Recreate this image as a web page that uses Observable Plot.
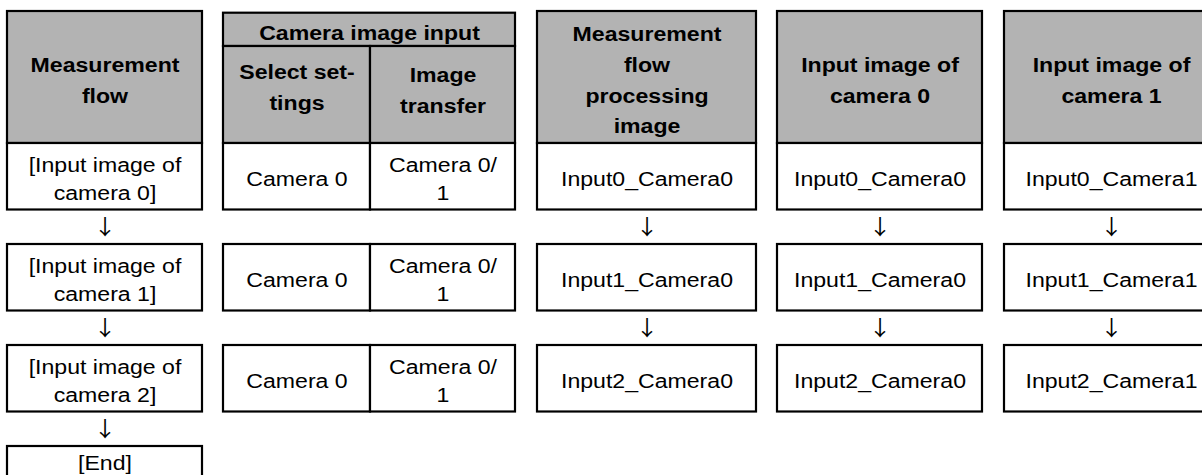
<!DOCTYPE html>
<html>
<head>
<meta charset="utf-8">
<script src="https://cdn.jsdelivr.net/npm/d3@7"></script>
<script src="https://cdn.jsdelivr.net/npm/@observablehq/plot@0.6"></script>
<style>
  html, body { margin: 0; padding: 0; background: #ffffff; overflow: hidden; }
</style>
</head>
<body>
<div id="chart"></div>
<script>
// ---------- data ----------
const columnTitles = [
  "Measurement\nflow",
  "Camera image input",
  "Measurement\nflow\nprocessing\nimage",
  "Input image of\ncamera 0",
  "Input image of\ncamera 1"
];
const cameraInputSubTitles = ["Select set-\ntings", "Image\ntransfer"];
const measurementFlow = ["[Input image of\ncamera 0]", "[Input image of\ncamera 1]", "[Input image of\ncamera 2]", "[End]"];
const selectSettings = ["Camera 0", "Camera 0", "Camera 0"];
const imageTransfer = ["Camera 0/\n1", "Camera 0/\n1", "Camera 0/\n1"];
const processingImage = ["Input0_Camera0", "Input1_Camera0", "Input2_Camera0"];
const camera0Image = ["Input0_Camera0", "Input1_Camera0", "Input2_Camera0"];
const camera1Image = ["Input0_Camera1", "Input1_Camera1", "Input2_Camera1"];
const arrowGlyph = "\u2193";

// ---------- layout ----------
const W = 1202, H = 475;
const colX = [[7, 202], [223, 515], [537, 756], [777, 982], [1004, 1218]];
const splitX = 370;
const headTop = 11, camTop = 12.7, groupBottom = 46, headBottom = 143;
const rowStep = 101, rowH = 66.5;
const rowTop = i => headBottom + i * rowStep;
const GRAY = "#b3b3b3";
const FONT = "'Liberation Sans', Arial, Helvetica, sans-serif";
const ARROW_FONT = "'Noto Sans CJK JP', 'Noto Sans CJK SC', 'DejaVu Sans', sans-serif";

// ---------- build cells ----------
const headerCells = [];
const dataCells = [];
const arrows = [];

columnTitles.forEach((t, c) => {
  if (c === 1) {
    headerCells.push({x1: colX[1][0], x2: colX[1][1], y1: camTop, y2: groupBottom, text: t, dy: 0});
    headerCells.push({x1: colX[1][0], x2: splitX, y1: groupBottom, y2: headBottom, text: cameraInputSubTitles[0], dy: -10});
    headerCells.push({x1: splitX, x2: colX[1][1], y1: groupBottom, y2: headBottom, text: cameraInputSubTitles[1], dy: -7});
  } else {
    headerCells.push({x1: colX[c][0], x2: colX[c][1], y1: headTop, y2: headBottom, text: t, dy: 0});
  }
});

function addColumn(values, x1, x2, withArrows) {
  values.forEach((v, i) => {
    dataCells.push({x1, x2, y1: rowTop(i), y2: rowTop(i) + rowH, text: v});
    if (withArrows && i < values.length - 1) {
      arrows.push({x: (x1 + x2) / 2, y: rowTop(i) + rowH + (rowStep - rowH) / 2, text: arrowGlyph});
    }
  });
}
addColumn(measurementFlow, colX[0][0], colX[0][1], true);
addColumn(selectSettings, colX[1][0], splitX, false);
addColumn(imageTransfer, splitX, colX[1][1], false);
addColumn(processingImage, colX[2][0], colX[2][1], true);
addColumn(camera0Image, colX[3][0], colX[3][1], true);
addColumn(camera1Image, colX[4][0], colX[4][1], true);

// text is centred in the visible part of each cell
const cx = d => (d.x1 + d.x2) / 2;
const cy = d => (d.y1 + Math.min(d.y2, H)) / 2 + (d.dy || 0);

const chart = Plot.plot({
  width: W,
  height: H,
  margin: 0,
  x: {type: "identity", axis: null},
  y: {type: "identity", axis: null},
  style: {fontFamily: FONT, background: "#ffffff", overflow: "hidden"},
  marks: [
    Plot.rect(headerCells, {x1: "x1", x2: "x2", y1: "y1", y2: "y2", fill: GRAY, stroke: "#000", strokeWidth: 2.2}),
    Plot.rect(dataCells, {x1: "x1", x2: "x2", y1: "y1", y2: "y2", fill: "#fff", stroke: "#000", strokeWidth: 2.2}),
    Plot.text(headerCells, {x: cx, y: cy, text: "text", fontSize: 21, fontWeight: "bold", lineHeight: 1.46, fill: "#000", textAnchor: "middle"}),
    Plot.text(dataCells, {x: cx, y: cy, text: "text", fontSize: 21, lineHeight: 1.36, fill: "#000", textAnchor: "middle"}),
    Plot.text(arrows, {x: "x", y: "y", text: "text", fontSize: 21, fontFamily: ARROW_FONT, fill: "#000", textAnchor: "middle"})
  ]
});

// horizontal stretch of glyphs to match the reference's wide type
chart.querySelectorAll("text").forEach(t => {
  const tr = t.getAttribute("transform");
  if (tr && tr.includes("translate")) t.setAttribute("transform", tr + " scale(1.1,1)");
});

document.getElementById("chart").appendChild(chart);
</script>
</body>
</html>
